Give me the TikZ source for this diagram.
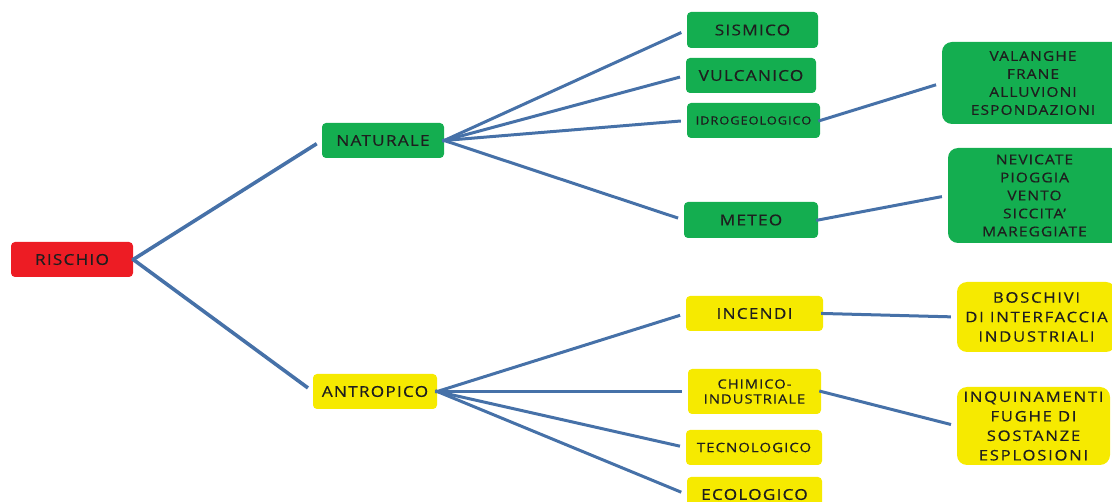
\documentclass[tikz,border=0pt]{standalone}
\usepackage{fontspec}
\setmainfont{Open Sans}[FakeStretch=1.15,LetterSpace=8,FakeBold=0.4]
\definecolor{rred}{RGB}{237,28,36}
\definecolor{rgreen}{RGB}{20,174,80}
\definecolor{ryellow}{RGB}{246,234,0}
\definecolor{rline}{RGB}{70,113,168}
\definecolor{rtext}{RGB}{30,30,30}
\begin{document}
\begin{tikzpicture}[x=1pt,y=-1pt,
  box/.style={rectangle,rounded corners=4pt,inner sep=0pt,text=rtext,align=center,font=\fontsize{15}{16}\selectfont},
  gbox/.style={box,fill=rgreen},
  ybox/.style={box,fill=ryellow},
  rbox/.style={box,fill=rred},
  bigbox/.style={rectangle,rounded corners=10pt,inner sep=0pt,text=rtext,align=center,font=\fontsize{13.5}{18}\selectfont},
  ybigtext/.style={font=\fontsize{14.5}{19.5}\selectfont\addfontfeature{LetterSpace=12}},
  link/.style={draw=rline,line width=3pt,shorten >=6pt,shorten <=-2pt},
  thick link/.style={draw=rline,line width=3.6pt,shorten >=6pt,shorten <=-1pt}]
\useasboundingbox (0,0) rectangle (1112,502);
\node[rbox,minimum width=122pt,minimum height=35pt] (rischio) at (72,259.5) {RISCHIO};
\node[gbox,minimum width=122pt,minimum height=35pt] (naturale) at (383,140.5) {NATURALE};
\node[ybox,minimum width=124pt,minimum height=35pt] (antropico) at (375,391.5) {ANTROPICO};
\node[gbox,minimum width=131pt,minimum height=36pt] (sismico) at (752.5,30) {SISMICO};
\node[gbox,minimum width=130pt,minimum height=35pt] (vulcanico) at (751,75.5) {VULCANICO};
\node[gbox,minimum width=133pt,minimum height=35pt,font=\fontsize{11.2}{12}\selectfont] (idro) at (753.5,120.5) {IDROGEOLOGICO};
\node[gbox,minimum width=134pt,minimum height=36pt] (meteo) at (751,220) {METEO};
\node[ybox,minimum width=137pt,minimum height=35pt] (incendi) at (754.5,313.5) {INCENDI};
\node[ybox,minimum width=133pt,minimum height=45pt,font=\fontsize{12.8}{15}\selectfont] (chimico) at (754.5,391.5) {CHIMICO-\\INDUSTRIALE};
\node[ybox,minimum width=136pt,minimum height=35pt,font=\fontsize{13}{14}\selectfont] (tecno) at (754,447.5) {TECNOLOGICO};
\node[ybox,minimum width=135pt,minimum height=35pt] (eco) at (754.5,494.5) {ECOLOGICO};
\node[bigbox,fill=rgreen,minimum width=182pt,minimum height=82pt] (valanghe) at (1033,83) {VALANGHE\\FRANE\\ALLUVIONI\\ESPONDAZIONI};
\node[bigbox,fill=rgreen,minimum width=173pt,minimum height=95pt] (nevicate) at (1034.5,195.5) {NEVICATE\\PIOGGIA\\VENTO\\SICCITA'\\MAREGGIATE};
\node[bigbox,fill=ryellow,minimum width=159pt,minimum height=70pt,ybigtext] (boschivi) at (1036.5,317) {BOSCHIVI\\DI INTERFACCIA\\INDUSTRIALI};
\node[bigbox,fill=ryellow,minimum width=153pt,minimum height=78pt,ybigtext] (inqui) at (1033.5,426) {INQUINAMENTI\\FUGHE DI\\SOSTANZE\\ESPLOSIONI};
\draw[thick link] (rischio.east) -- (naturale.west);
\draw[thick link] (rischio.east) -- (antropico.west);
\foreach \t in {sismico,vulcanico,idro,meteo}
  \draw[link] (naturale.east) -- (\t.west);
\foreach \t in {incendi,chimico,tecno,eco}
  \draw[link] (antropico.east) -- (\t.west);
\draw[link] (idro.east) -- (valanghe.west);
\draw[link] (meteo.east) -- (nevicate.west);
\draw[link] (incendi.east) -- (boschivi.west);
\draw[link] (chimico.east) -- (inqui.west);
\end{tikzpicture}
\end{document}
